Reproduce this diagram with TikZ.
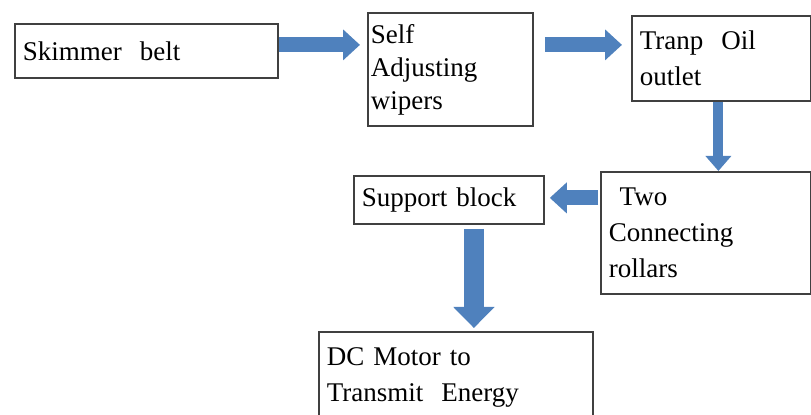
\documentclass[tikz,border=0pt]{standalone}
\usepackage{fontspec}
\setmainfont{Liberation Serif}
\newfontfamily\boxfont{Liberation Serif}
\usetikzlibrary{arrows.meta}
\definecolor{flowblue}{RGB}{79,129,189}

\tikzset{
  box/.style={draw=black!75, line width=0.9pt, anchor=north west, align=left,
    inner xsep=4pt, inner ysep=0pt, font=\boxfont\fontsize{13.5}{18}\selectfont},
  flow/.style={draw=flowblue, line width=7.5pt, -{Triangle[width=15pt,length=8.5pt]}}
}

\begin{document}
\begin{tikzpicture}[x=0.5pt,y=-0.5pt]
\useasboundingbox (0,0) rectangle (811,415);

% boxes
\node[box, text width=123.5pt, minimum height=27pt] (skim) at (14,23) {Skimmer~ belt};
\node[box, inner xsep=1.5pt, text width=79.5pt, minimum height=56.5pt,
  font=\boxfont\fontsize{13.5}{16.5}\selectfont] (self) at (367,12) {Self\\Adjusting\\wipers};
\node[box, text width=81.5pt, minimum height=42.5pt] (tranp) at (631,15) {Tranp~ Oil\\outlet};
\node[box, text width=97pt, minimum height=61pt] (two) at (600,171) {\hspace{0.4em}Two\\Connecting\\rollars};
\node[box, text width=87pt, minimum height=24pt] (supp) at (353,175) {Support block};
\node[box, text width=129pt, minimum height=46pt] (dc) at (318,331) {DC Motor to\\Transmit~ Energy};

% arrows
\draw[flow, shorten >=3.5pt] ([yshift=3pt]skim.east) -- ([yshift=3pt]skim.east -| self.west);
\draw[flow, shorten <=5.5pt, shorten >=4.5pt] ([yshift=3pt]skim.east -| self.east) -- ([yshift=3pt]skim.east -| tranp.west);
\draw[flow, line width=5pt, -{Triangle[width=12.5pt,length=7.5pt]}] ([xshift=-1.5pt]tranp.south) -- ([xshift=-1.5pt]tranp.south |- two.north);
\draw[flow, shorten <=1pt, shorten >=2.5pt] ([yshift=1pt]supp.east -| two.west) -- ([yshift=1pt]supp.east);
\draw[flow, line width=10pt, -{Triangle[width=20pt,length=10.5pt]}, shorten <=2pt, shorten >=1.5pt]
  ([xshift=12.5pt]supp.south) -- ([xshift=12.5pt]supp.south |- dc.north);

\end{tikzpicture}
\end{document}
